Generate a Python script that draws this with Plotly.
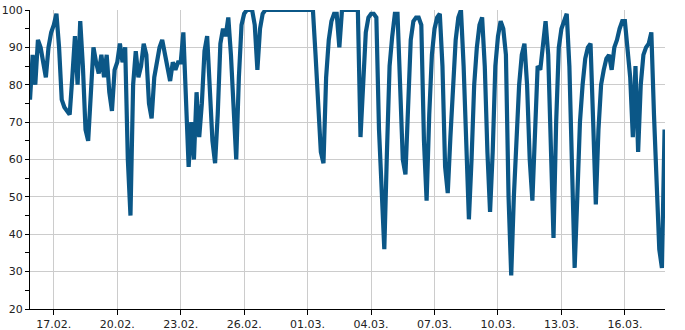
import pandas as pd
import plotly.graph_objects as go

start_time = "2023-02-15 21:00"
step = "3h"

values = (
    [76]
    + [88, 80, 92, 90, 85, 82, 90, 94]      # 16.02
    + [96, 99, 90, 76, 74, 73, 72, 82]      # 17.02
    + [93, 80, 97, 85, 68, 65, 80, 90]      # 18.02
    + [86, 83, 88, 82, 88, 78, 73, 84]      # 19.02
    + [86, 91, 86, 90, 60, 45, 80, 89]      # 20.02
    + [82, 85, 91, 88, 75, 71, 82, 86]      # 21.02
    + [90, 92, 88, 85, 81, 86, 84, 86]      # 22.02
    + [86, 94, 75, 58, 70, 60, 78, 66]      # 23.02
    + [75, 89, 93, 80, 65, 59, 72, 91]      # 24.02
    + [95, 93, 98, 88, 72, 60, 82, 96]      # 25.02
    + [99, 100, 100, 100, 96, 84, 95, 99]   # 26.02
    + [100, 100, 100, 100, 100, 100, 100, 100]  # 27.02
    + [100, 100, 100, 100, 100, 100, 100, 100]  # 28.02
    + [100, 100, 100, 88, 72, 62, 59, 82]   # 01.03
    + [92, 97, 99, 99, 90, 100, 100, 100]   # 02.03
    + [100, 100, 100, 100, 66, 82, 94, 98]  # 03.03
    + [99, 99, 98, 68, 50, 36, 62, 85]      # 04.03
    + [93, 99, 99, 75, 60, 56, 75, 92]      # 05.03
    + [97, 98, 98, 96, 65, 49, 72, 88]      # 06.03
    + [95, 98, 99, 85, 58, 51, 66, 82]      # 07.03
    + [92, 98, 100, 85, 60, 44, 60, 80]     # 08.03
    + [90, 96, 98, 85, 62, 46, 62, 85]      # 09.03
    + [93, 97, 95, 88, 50, 29, 50, 68]      # 10.03
    + [80, 88, 91, 80, 60, 49, 70, 85]      # 11.03
    + [84, 92, 97, 88, 60, 39, 70, 90]      # 12.03
    + [95, 97, 99, 85, 60, 31, 50, 70]      # 13.03
    + [80, 87, 90, 91, 70, 48, 68, 80]      # 14.03
    + [84, 87, 88, 84, 90, 92, 95, 97]      # 15.03
    + [97, 88, 82, 66, 85, 62, 80, 88]      # 16.03
    + [90, 91, 94, 72, 50, 36, 31, 68]      # 17.03
)

times = pd.date_range(start_time, periods=len(values), freq=step)

x_range = ["2023-02-15 21:00", "2023-03-17 21:30"]
y_range = [20, 100]

fig = go.Figure()
fig.add_trace(go.Scatter(
    x=times, y=values, mode="lines",
    line=dict(color="#0b5787", width=4.2, shape="linear"),
    hoverinfo="skip", showlegend=False,
))

axis_font = dict(family="DejaVu Sans", size=11, color="#222222")

fig.update_layout(
    width=685, height=330,
    margin=dict(l=30, r=20, t=10, b=21),
    paper_bgcolor="white", plot_bgcolor="white",
    font=axis_font,
    xaxis=dict(
        type="date", range=x_range, automargin=False,
        tick0="2023-02-17", dtick=3 * 86400000, tickformat="%d.%m.",
        showgrid=True, gridcolor="#cccccc", gridwidth=1,
        showline=True, linecolor="#000000", linewidth=1,
        ticks="outside", ticklen=5, tickcolor="#000000",
        tickfont=axis_font, zeroline=False,
    ),
    yaxis=dict(
        range=y_range, dtick=10, tick0=0, automargin=False,
        showgrid=True, gridcolor="#cccccc", gridwidth=1,
        showline=True, linecolor="#000000", linewidth=1,
        ticks="outside", ticklen=4, tickcolor="#000000",
        minor=dict(dtick=5, ticks="outside", ticklen=4, tickcolor="#000000", showgrid=False),
        tickfont=axis_font, zeroline=False,
    ),
)

fig.write_html("out.html")
